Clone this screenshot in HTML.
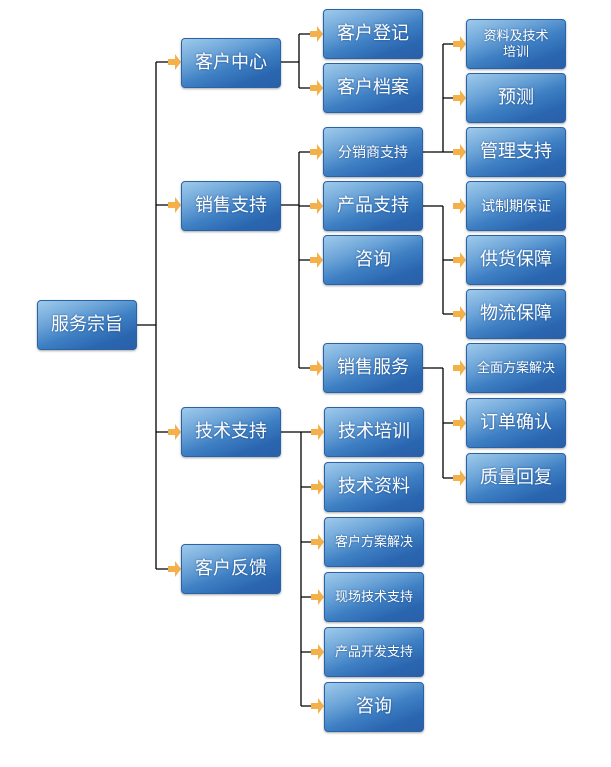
<!DOCTYPE html>
<html><head><meta charset="utf-8"><style>
body{margin:0;width:611px;height:767px;background:#fff;position:relative;overflow:hidden;font-family:"Liberation Sans","Noto Sans CJK SC",sans-serif}
.b{position:absolute;width:98px;height:48px;border:1px solid #2a62a8;border-radius:4px;
background:linear-gradient(160deg,#9fcaeb 0%,#6ea6d9 30%,#3f80c4 55%,#2a66b0 80%,#2a5fa8 100%);
box-shadow:0 1px 2px rgba(0,0,0,.35);color:#fff;font-size:18px;display:flex;align-items:center;justify-content:center;text-align:center;line-height:1.2;text-shadow:0 0 2px rgba(0,40,100,.6)}
.s{font-size:14px}.xs{font-size:13px}
svg{position:absolute;left:0;top:0}
</style></head><body>
<svg width="611" height="767">
<g stroke="#000" stroke-width="1.3" fill="none">
<path d="M136 325H156M156 62V569M156 62H170M156 205H170M156 432H170M156 569H170"/>
<path d="M280 62H299M299 34V88M299 34H312M299 88H312"/>
<path d="M280 205H299M299 152V368M299 152H312M299 206H312M299 260H312M299 368H312"/>
<path d="M280 432H301M301 432V706M301 432H313M301 487H313M301 542H313M301 597H313M301 652H313M301 706H313"/>
<path d="M422 152H443M443 44V152M443 44H455M443 98H455M443 152H455"/>
<path d="M422 206H443M443 206V314M443 260H455M443 314H455"/>
<path d="M422 368H443M443 368V478M443 423H455M443 478H455"/>
</g>
<g fill="#f4b14a">
<path transform="translate(168,62)" d="M0 -3H7V-8L13 0L7 8V3H0Z"/>
<path transform="translate(168,205)" d="M0 -3H7V-8L13 0L7 8V3H0Z"/>
<path transform="translate(168,432)" d="M0 -3H7V-8L13 0L7 8V3H0Z"/>
<path transform="translate(168,569)" d="M0 -3H7V-8L13 0L7 8V3H0Z"/>
<path transform="translate(310,34)" d="M0 -3H7V-8L13 0L7 8V3H0Z"/>
<path transform="translate(310,88)" d="M0 -3H7V-8L13 0L7 8V3H0Z"/>
<path transform="translate(310,152)" d="M0 -3H7V-8L13 0L7 8V3H0Z"/>
<path transform="translate(310,206)" d="M0 -3H7V-8L13 0L7 8V3H0Z"/>
<path transform="translate(310,260)" d="M0 -3H7V-8L13 0L7 8V3H0Z"/>
<path transform="translate(310,368)" d="M0 -3H7V-8L13 0L7 8V3H0Z"/>
<path transform="translate(311,432)" d="M0 -3H7V-8L13 0L7 8V3H0Z"/>
<path transform="translate(311,487)" d="M0 -3H7V-8L13 0L7 8V3H0Z"/>
<path transform="translate(311,542)" d="M0 -3H7V-8L13 0L7 8V3H0Z"/>
<path transform="translate(311,597)" d="M0 -3H7V-8L13 0L7 8V3H0Z"/>
<path transform="translate(311,652)" d="M0 -3H7V-8L13 0L7 8V3H0Z"/>
<path transform="translate(311,706)" d="M0 -3H7V-8L13 0L7 8V3H0Z"/>
<path transform="translate(453,44)" d="M0 -3H7V-8L13 0L7 8V3H0Z"/>
<path transform="translate(453,98)" d="M0 -3H7V-8L13 0L7 8V3H0Z"/>
<path transform="translate(453,152)" d="M0 -3H7V-8L13 0L7 8V3H0Z"/>
<path transform="translate(453,206)" d="M0 -3H7V-8L13 0L7 8V3H0Z"/>
<path transform="translate(453,260)" d="M0 -3H7V-8L13 0L7 8V3H0Z"/>
<path transform="translate(453,314)" d="M0 -3H7V-8L13 0L7 8V3H0Z"/>
<path transform="translate(453,368)" d="M0 -3H7V-8L13 0L7 8V3H0Z"/>
<path transform="translate(453,423)" d="M0 -3H7V-8L13 0L7 8V3H0Z"/>
<path transform="translate(453,478)" d="M0 -3H7V-8L13 0L7 8V3H0Z"/>
</g>
</svg>
<div class="b" style="left:37px;top:300px">服务宗旨</div>
<div class="b" style="left:181px;top:38px">客户中心</div>
<div class="b" style="left:181px;top:181px">销售支持</div>
<div class="b" style="left:181px;top:407px">技术支持</div>
<div class="b" style="left:181px;top:544px">客户反馈</div>
<div class="b" style="left:323px;top:9px">客户登记</div>
<div class="b" style="left:323px;top:63px">客户档案</div>
<div class="b s" style="left:323px;top:127px">分销商支持</div>
<div class="b" style="left:323px;top:181px">产品支持</div>
<div class="b" style="left:323px;top:235px">咨询</div>
<div class="b" style="left:323px;top:343px">销售服务</div>
<div class="b" style="left:324px;top:407px">技术培训</div>
<div class="b" style="left:324px;top:462px">技术资料</div>
<div class="b xs" style="left:324px;top:517px">客户方案解决</div>
<div class="b xs" style="left:324px;top:572px">现场技术支持</div>
<div class="b xs" style="left:324px;top:627px">产品开发支持</div>
<div class="b" style="left:324px;top:682px">咨询</div>
<div class="b xs" style="left:466px;top:19px">资料及技术<br>培训</div>
<div class="b" style="left:466px;top:73px">预测</div>
<div class="b" style="left:466px;top:127px">管理支持</div>
<div class="b s" style="left:466px;top:181px">试制期保证</div>
<div class="b" style="left:466px;top:235px">供货保障</div>
<div class="b" style="left:466px;top:289px">物流保障</div>
<div class="b xs" style="left:466px;top:343px">全面方案解决</div>
<div class="b" style="left:466px;top:398px">订单确认</div>
<div class="b" style="left:466px;top:453px">质量回复</div>
</body></html>
